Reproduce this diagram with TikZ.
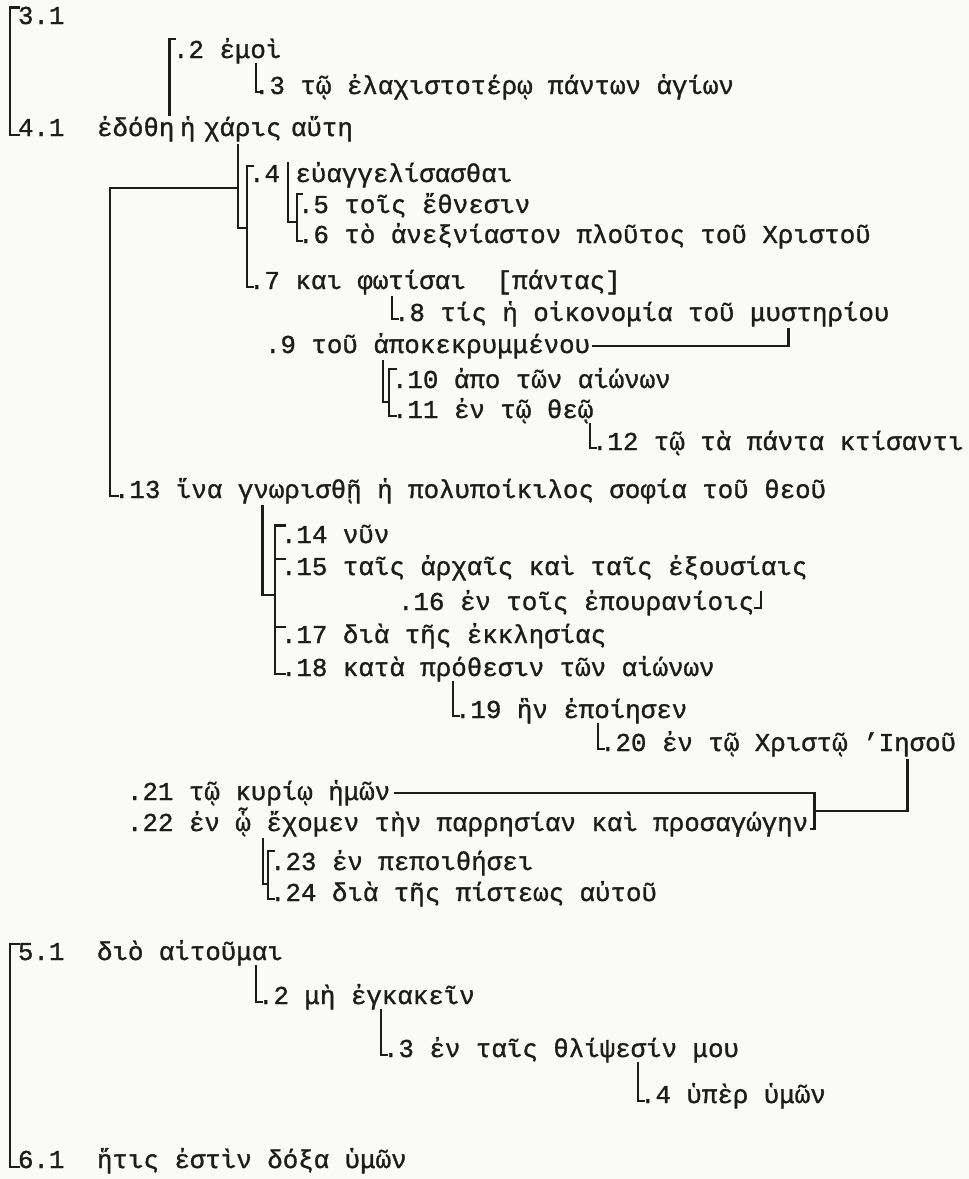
\documentclass[tikz,border=0pt]{standalone}
\usepackage{fontspec}
\newfontfamily\tw{Liberation Mono}[FakeBold=1.2]
\usetikzlibrary{calc}
\definecolor{ink}{HTML}{1C1C1C}
\definecolor{paper}{HTML}{FAFAF8}
\begin{document}
\begin{tikzpicture}[x=1pt,y=-1pt,
  txt/.style={anchor=base west,inner sep=0pt,outer sep=0pt,font=\tw\fontsize{25.8}{30}\selectfont,text=ink},
  ln/.style={draw=ink,line width=2.6pt,line cap=butt,line join=miter}]
\fill[paper] (0,0) rectangle (969,1179);
\useasboundingbox (0,0) rectangle (969,1179);
% ---- text ----
\node[txt] (n31) at (18,24) {3.1};
\node[txt] (n2) at (173,58) {.2 ἐμοὶ};
\node[txt] (n3) at (254,94) {.3 τῷ ἐλαχιστοτέρῳ πάντων ἁγίων};
\node[txt] (n41) at (18,136) {4.1};
\node[txt] (e41a) at (97,136) {ἐδόθη};
\node[txt] (e41b) at (180,136) {ἡ};
\node[txt] (e41c) at (204,136) {χάρις};
\node[txt] (e41d) at (291,136) {αὕτη};
\node[txt] (n4) at (249,182) {.4};
\node[txt] (n4w) at (n4.base east) {\ εὐαγγελίσασθαι};
\node[txt] (n5) at (298,213) {.5 τοῖς ἔθνεσιν};
\node[txt] (n6) at (298,243) {.6 τὸ ἀνεξνίαστον πλοῦτος τοῦ Χριστοῦ};
\node[txt] (n7) at (249,289) {.7 και};
\node[txt] (n7b) at (n7.base east) {\ φωτίσαι};
\node[txt] (n7c) at (n7b.base east) {\ \ [πάντας]};
\node[txt] (n8) at (394,321) {.8 τίς ἡ οἰκονομία τοῦ};
\node[txt] (n8b) at (n8.base east) {\ μυστηρίου};
\node[txt] (n9) at (265,353) {.9 τοῦ};
\node[txt] (n9b) at (n9.base east) {\ ἀποκεκρυμμένου};
\node[txt] (n10) at (392,388) {.10 ἀπο τῶν αἰώνων};
\node[txt] (n11) at (392,418) {.11 ἐν τῷ};
\node[txt] (n11b) at (n11.base east) {\ θεῷ};
\node[txt] (n12) at (592,450) {.12 τῷ τὰ πάντα κτίσαντι};
\node[txt] (n13) at (114,498) {.13 ἵνα};
\node[txt] (n13b) at (n13.base east) {\ γνωρισθῇ};
\node[txt] (n13c) at (n13b.base east) {\ ἡ πολυποίκιλος σοφία τοῦ θεοῦ};
\node[txt] (n14) at (281,543) {.14 νῦν};
\node[txt] (n15) at (281,575) {.15 ταῖς ἀρχαῖς καὶ ταῖς ἐξουσίαις};
\node[txt] (n16) at (398,610) {.16 ἐν τοῖς ἐπουρανίοις};
\node[txt] (n17) at (281,643) {.17 διὰ τῆς ἐκκλησίας};
\node[txt] (n18) at (281,676) {.18 κατὰ};
\node[txt] (n18b) at (n18.base east) {\ πρόθεσιν};
\node[txt] (n18c) at (n18b.base east) {\ τῶν αἰώνων};
\node[txt] (n19) at (455,718) {.19 ἣν};
\node[txt] (n19b) at (n19.base east) {\ ἐποίησεν};
\node[txt] (n20) at (600,751) {.20 ἐν τῷ Χριστῷ};
\node[txt] (n20b) at (n20.base east) {\ ’Ιησοῦ};
\node[txt] (n21) at (127,800) {.21 τῷ κυρίῳ ἡμῶν};
\node[txt] (n22) at (127,831) {.22 ἐν ᾧ};
\node[txt] (n22b) at (n22.base east) {\ ἔχομεν};
\node[txt] (n22c) at (n22b.base east) {\ τὴν παρρησίαν καὶ προσαγώγην};
\node[txt] (n23) at (270,870) {.23 ἐν πεποιθήσει};
\node[txt] (n24) at (270,901) {.24 διὰ τῆς πίστεως αὐτοῦ};
\node[txt] (n51) at (18,960) {5.1};
\node[txt] (n51b) at (97,960) {διὸ αἰτοῦμαι};
\node[txt] (n52) at (258,1004) {.2 μὴ ἐγκακεῖν};
\node[txt] (n53) at (383,1057) {.3 ἐν ταῖς θλίψεσίν μου};
\node[txt] (n54) at (640,1103) {.4 ὑπὲρ ὑμῶν};
\node[txt] (n61) at (18,1168) {6.1};
\node[txt] (n61b) at (97,1168) {ἥτις ἐστὶν δόξα ὑμῶν};
% ---- connectors ----
\draw[ln] ($(n31.north west)+(2,1)$) -- ++(-10,0) |- ($(n41.base west)+(2,-1)$);
\draw[ln] ($(n2.north west)+(3,1)$) -| ($(e41a.north east)+(-5,0)$);
\coordinate (a3) at ($(n3.base west)+(2,-2)$);
\draw[ln] (a3 |- n2.south) -- (a3) -- ++(5,0);
\coordinate (cx) at ($(e41c.base west)+(34,8)$);
\draw[ln] (cx) |- ($(n4.base west)+(-2,46)$);
\draw[ln] ($(n4.north west)+(5,1)$) -- ++(-7,0) |- ($(n7.base west)+(5,-2)$);
\draw[ln] ($(cx)+(0,44)$) -| ($(n13.base west)+(-4,-2)$) -- ++(9,0);
\draw[ln] ($(n4w.north west)+(8,0)$) |- ($(n5.base west)+(-1,9)$);
\draw[ln] ($(n5.north west)+(5,1)$) -- ++(-6,0) |- ($(n6.base west)+(5,-2)$);
\draw[ln] ($(n7b.south west)+(50,2)$) |- ($(n8.base west)+(5,-2)$);
\draw[ln] ($(n9b.base east)+(2,-7)$) -| ($(n8b.south west)+(54,2)$);
\draw[ln] ($(n9b.south west)+(25,2)$) |- ($(n10.base west)+(-3,14)$);
\draw[ln] ($(n10.north west)+(5,1)$) -- ++(-8,0) |- ($(n11.base west)+(5,-2)$);
\coordinate (a12) at ($(n12.base west)+(-2,-2)$);
\draw[ln] (a12 |- n11b.south) -- (a12) -- ++(7,0);
\draw[ln] ($(n13b.south west)+(40,2)$) |- ($(n15.base west)+(-6,20)$);
\draw[ln] ($(n14.north west)+(5,1)$) -- ++(-11,0) |- ($(n18.base west)+(5,-2)$);
\draw[ln] ($(n15.north west)+(-6,4)$) -- ++(11,0);
\draw[ln] ($(n17.north west)+(-6,4)$) -- ++(11,0);
\draw[ln] ($(n16.base east)+(0,-2)$) -| ($(n16.base east)+(7,-19)$);
\coordinate (a19) at ($(n19.base west)+(-2,-2)$);
\draw[ln] (a19 |- n18b.south) -- (a19) -- ++(7,0);
\coordinate (a20) at ($(n20.base west)+(-2,-2)$);
\draw[ln] (a20 |- n19b.south) -- (a20) -- ++(7,0);
\coordinate (bx) at ($(n22c.base east)+(6,0)$);
\coordinate (t21) at ($(n21.base east)+(4,-7)$);
\coordinate (t22) at ($(n22c.base east)+(2,-2)$);
\draw[ln] (t21) -- (t21 -| bx) |- (t22);
\coordinate (ji) at ($(n20b.south west)+(60,3)$);
\draw[ln] (ji) |- ($(bx)+(0,-20)$);
\draw[ln] ($(n22b.south west)+(12,2)$) |- ($(n23.base west)+(-2,14)$);
\draw[ln] ($(n23.north west)+(5,1)$) -- ++(-7,0) |- ($(n24.base west)+(5,-2)$);
\draw[ln] ($(n51.north west)+(2,1)$) -- ++(-10,0) |- ($(n61.base west)+(2,-1)$);
\coordinate (a52) at ($(n52.base west)+(-2,-2)$);
\draw[ln] (a52 |- n51b.south) -- (a52) -- ++(7,0);
\coordinate (a53) at ($(n53.base west)+(-2,-2)$);
\draw[ln] (a53 |- n52.south) -- (a53) -- ++(7,0);
\coordinate (a54) at ($(n54.base west)+(-2,-2)$);
\draw[ln] (a54 |- n53.south) -- (a54) -- ++(7,0);
\end{tikzpicture}
\end{document}
